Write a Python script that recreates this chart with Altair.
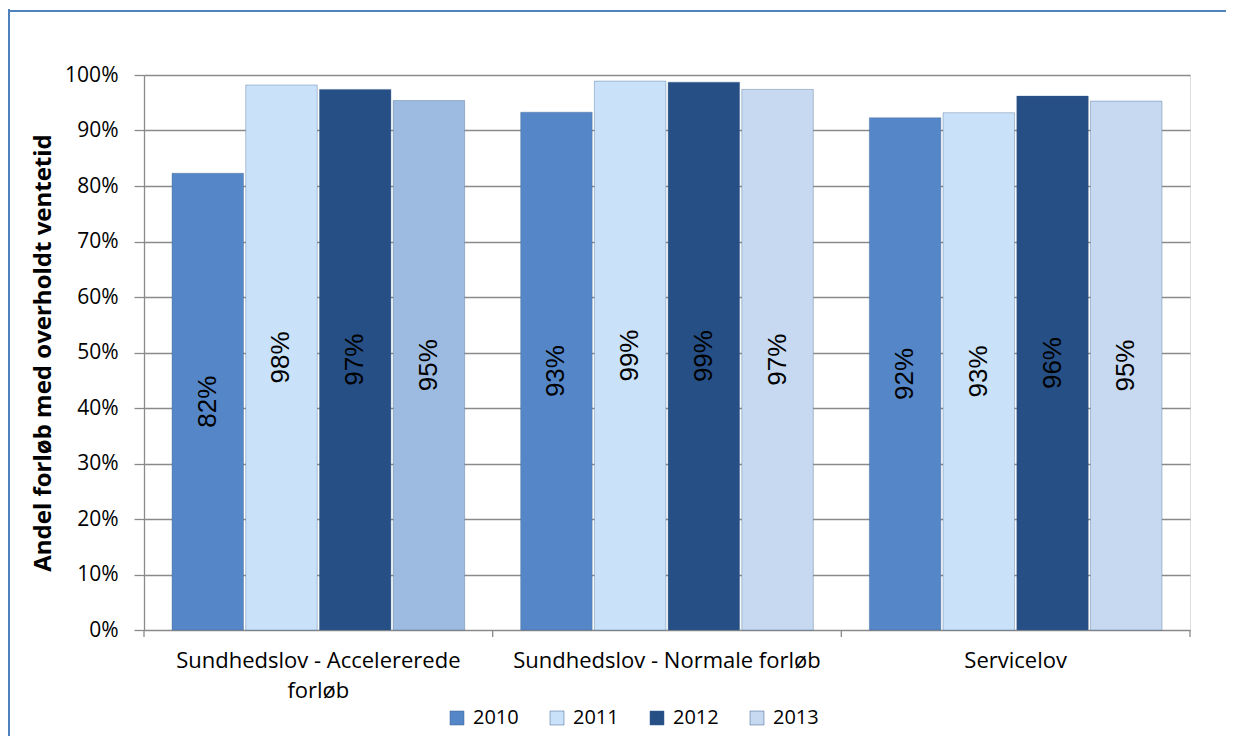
import altair as alt
import pandas as pd

categories = ["Sundhedslov - Accelererede forløb", "Sundhedslov - Normale forløb", "Servicelov"]
years = ["2010", "2011", "2012", "2013"]
v2010 = [0.823, 0.933, 0.923]
v2011 = [0.982, 0.989, 0.932]
v2012 = [0.974, 0.987, 0.962]
v2013 = [0.954, 0.974, 0.953]
year_colors = ["#5587C8", "#C9E2F9", "#254F85", "#C6D9F0"]
accent_2013 = "#9DBBE0"

rows = []
for i, c in enumerate(categories):
    for y, vals in zip(years, [v2010, v2011, v2012, v2013]):
        rows.append({"cat": c, "year": y, "value": vals[i]})
df = pd.DataFrame(rows)

W, H = 1046, 555
FONT = "Open Sans"

x_enc = alt.X("cat:N", sort=categories,
              scale=alt.Scale(paddingInner=0, paddingOuter=0),
              axis=alt.Axis(title=None, labelAngle=0, ticks=False, domain=False,
                            labelFont=FONT, labelFontSize=22, labelColor="black",
                            labelPadding=20, labelLimit=600, labelLineHeight=30,
                            labelExpr="datum.label == 'Sundhedslov - Accelererede forløb' ? ['Sundhedslov - Accelererede', 'forløb'] : datum.label"))
xoff = alt.XOffset("year:N", sort=years,
                   scale=alt.Scale(paddingInner=0.03, paddingOuter=0.38))

y_enc = alt.Y("value:Q",
              scale=alt.Scale(domain=[0, 1], nice=False),
              axis=alt.Axis(title="Andel forløb med overholdt ventetid", format=".0%",
                            values=[i / 10 for i in range(11)],
                            grid=True, gridColor="#8A8A8A", gridWidth=1.3,
                            tickSize=10, tickColor="#8A8A8A", tickWidth=1.3,
                            domainColor="#8A8A8A", domainWidth=1.3,
                            labelFont=FONT, labelFontSize=21, labelColor="black",
                            labelPadding=16, titleFont=FONT, titleFontSize=24,
                            titleFontWeight="bold", titleColor="black", titlePadding=9))

color = alt.condition(
    (alt.datum.cat == categories[0]) & (alt.datum.year == "2013"),
    alt.value(accent_2013),
    alt.Color("year:N", sort=years,
              scale=alt.Scale(domain=years, range=year_colors),
              legend=alt.Legend(title=None, orient="none", direction="horizontal",
                                legendX=303, legendY=633,
                                symbolType="square", symbolSize=196,
                                symbolStrokeWidth=0.5, symbolStrokeColor="#3A5F8F",
                                labelFont=FONT, labelFontSize=20, labelColor="black",
                                labelOffset=6, columnPadding=28)))

bars = alt.Chart(df).mark_bar(stroke="#3B5E8C", strokeWidth=0.6, strokeOpacity=0.6).encode(
    x=x_enc, xOffset=xoff, y=y_enc, color=color)

text = alt.Chart(df).transform_calculate(mid="datum.value / 2").mark_text(
    angle=270, align="center", baseline="middle",
    font="Liberation Sans", fontSize=26, color="black").encode(
    x=alt.X("cat:N", sort=categories), xOffset=alt.XOffset("year:N", sort=years),
    y=alt.Y("mid:Q"), text=alt.Text("value:Q", format=".0%"))

cat_df = pd.DataFrame({"cat": categories})
seps = alt.Chart(cat_df).mark_rule(color="#8A8A8A", strokeWidth=1.3).encode(
    x=alt.X("cat:N", sort=categories, bandPosition=0),
    y=alt.value(H), y2=alt.value(H + 7))

one = pd.DataFrame({"a": [0]})
sep_end = alt.Chart(one).mark_rule(color="#8A8A8A", strokeWidth=1.3).encode(
    x=alt.value(W), y=alt.value(H), y2=alt.value(H + 7))

frame_top = alt.Chart(one).mark_rule(color="#4F81BD", strokeWidth=2).encode(
    x=alt.value(-135), x2=alt.value(W + 36), y=alt.value(-64))
frame_left = alt.Chart(one).mark_rule(color="#4F81BD", strokeWidth=2).encode(
    x=alt.value(-135), y=alt.value(-66), y2=alt.value(H + 106))

chart = alt.layer(bars, text, seps, sep_end, frame_top, frame_left).properties(
    width=W, height=H, padding={"left": 0, "top": 0, "right": 0, "bottom": 0}
).configure_view(stroke=None).configure(background="white")

chart.save("out.html", embed_options={"renderer": "svg", "actions": False})
